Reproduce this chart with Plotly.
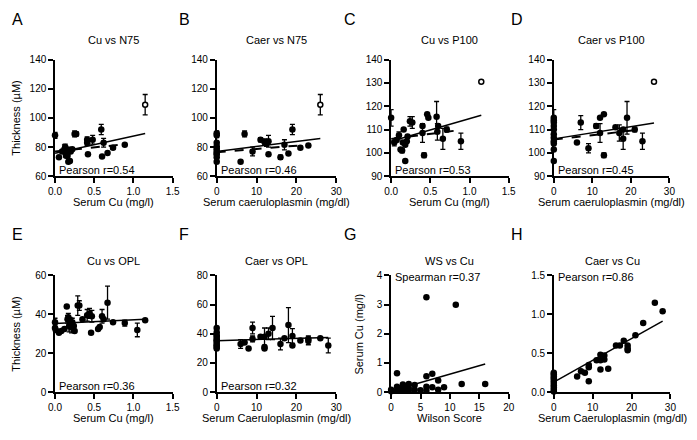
import plotly.graph_objects as go
from plotly.subplots import make_subplots

# ---- values ----
# A: serum Cu vs N75 thickness
cu_a = [0.0, 0.05, 0.09, 0.12, 0.13, 0.14, 0.15, 0.16, 0.17, 0.17, 0.19, 0.20, 0.22,
        0.25, 0.27, 0.41, 0.41, 0.42, 0.48, 0.59, 0.60, 0.62, 0.67, 0.74, 0.89]
n75_a = [88, 73, 77, 78.5, 80, 74, 76, 74, 78, 70, 70.5, 77, 78.5,
         89, 89, 85, 83, 75, 85, 92, 73.5, 83, 76, 79.5, 81.5]
err_a = [2, 0, 0, 3, 2, 0, 2, 0, 2, 0, 0, 0, 0,
         2, 1.5, 2, 2, 0, 3, 3.5, 0, 3, 0, 1, 0]

# B: serum caeruloplasmin vs N75 thickness
caer_b = [0, 0, 0, 0, 0, 0, 0, 0, 0, 0, 6, 7, 9, 11, 12, 12.5, 13, 13, 16, 17, 18, 19, 21, 23]
n75_b = [89.5, 88, 83, 80.5, 79, 77.5, 76, 75, 73, 70, 70, 89, 77, 85, 83.5, 82.5, 84, 75,
         73, 81.5, 75.5, 92, 79.5, 81]
err_b = [1.5, 1.5, 0, 0, 0, 0, 0, 0, 0, 0, 0, 2, 3, 1.5, 2, 2, 4, 0, 1.5, 3.5, 0, 3.5, 1, 0]

# C: serum Cu vs P100 thickness
cu_c = [0.0, 0.04, 0.07, 0.10, 0.12, 0.14, 0.15, 0.16, 0.18, 0.18, 0.20, 0.21, 0.24,
        0.27, 0.40, 0.40, 0.42, 0.46, 0.475, 0.58, 0.59, 0.60, 0.66, 0.71, 0.89]
p100_c = [115, 104.5, 105.5, 107.5, 101.5, 101, 104.5, 110, 96.5, 103.5, 105, 107, 113.5,
          113, 111.5, 108.5, 99, 116.5, 115, 115.5, 109, 111.5, 106, 110, 105]
err_c = [3.5, 1.5, 0, 1.5, 0, 1, 0, 0, 0, 0, 0, 0, 2,
         2.5, 0, 4, 1, 0, 0, 6.5, 3.5, 0, 4.5, 1, 3.5]

# D: serum caeruloplasmin vs P100 thickness
caer_d = [0, 0, 0, 0, 0, 0, 0, 0, 0, 0, 0, 6, 7, 9, 11, 12, 12, 13, 13, 16, 17, 18, 18,
          19, 21, 23]
p100_d = [115, 114, 113, 111.5, 110, 108, 106.5, 105, 104, 101.5, 96.5, 104.5, 113, 102,
          111.5, 115, 108.5, 116.5, 99, 111, 108.5, 106, 110, 115, 110, 105]
err_d = [3.5, 0, 0, 0, 0, 0, 0, 0, 0, 0, 0, 0, 3, 2, 1, 0, 4, 0, 1, 0, 3.5, 4.5, 0, 7, 1, 3.5]

# open-circle outlier in A-D (Cu, caeruloplasmin, N75, P100)
out_cu = 1.15
out_caer = 26
out_n75, out_n75_err = 109, 7
out_p100 = 130.5

# E: serum Cu vs OPL thickness
cu_e = [0.0, 0.0, 0.01, 0.05, 0.08, 0.12, 0.15, 0.16, 0.17, 0.18, 0.19, 0.20, 0.21, 0.22,
        0.24, 0.25, 0.29, 0.31, 0.35, 0.41, 0.44, 0.46, 0.47, 0.55, 0.57, 0.60, 0.62,
        0.67, 0.74, 0.89, 1.05, 1.15]
opl_e = [36, 33, 32, 30.5, 31.5, 32.5, 44, 37.5, 38.5, 34, 36.5, 35, 33.5, 36,
         34, 31.5, 44.5, 44.5, 37.5, 39.5, 40.5, 30.5, 39, 32.5, 33.5, 39, 37.5,
         46, 36, 35.5, 32, 37]
err_e = [2, 2, 0, 0, 0, 0, 0, 2, 2, 3, 2, 3, 3, 2, 0, 0, 5, 2.5, 0, 3, 2.5, 0, 3, 0, 0,
         3.5, 0, 8.5, 0, 1.5, 3.5, 0]

# F: serum caeruloplasmin vs OPL thickness
caer_f = [0, 0, 0, 0, 0, 0, 0, 0, 0, 0, 0, 6, 7, 8, 9, 9, 11, 12, 12, 12, 13, 14, 16, 17,
          18, 19, 19, 21, 23, 23, 26, 28]
opl_f = [44, 41, 39, 38, 36.5, 35.5, 34.5, 33, 32, 31, 30, 33, 34, 30, 44, 36.5, 38, 31,
         30, 38, 40, 44, 33, 37, 46, 38.5, 32, 35.5, 36.5, 35, 37, 32]
err_f = [0, 0, 0, 0, 0, 0, 0, 0, 0, 0, 0, 3, 0, 0, 4, 2, 0, 0, 0, 6, 4, 8, 4, 0, 12, 5,
         0, 0, 2, 2.5, 0, 5]

# G: Wilson score vs serum Cu
ws_g = [0, 0, 1, 1, 1, 2, 2, 2, 3, 3, 3, 4, 4, 5, 6, 6, 6, 6, 7, 7, 8, 8, 9, 11, 12, 16]
cu_g = [0.08, 0.03, 0.65, 0.19, 0.06, 0.26, 0.14, 0.05, 0.28, 0.14, 0.05, 0.25, 0.08,
        0.07, 3.25, 0.55, 0.19, 0.05, 0.63, 0.17, 0.4, 0.08, 0.17, 3.0, 0.28, 0.28]

# H: serum caeruloplasmin vs serum Cu
caer_h = [0, 0, 0, 0, 0, 0, 0, 0, 0, 0, 6, 7, 8, 9, 9, 9, 11, 12, 12, 12, 13, 13, 14, 16,
          17, 18, 19, 19, 19, 21, 23, 26, 28]
cu_h = [0.25, 0.23, 0.2, 0.18, 0.15, 0.12, 0.09, 0.06, 0.03, 0.01, 0.2, 0.27, 0.25, 0.32,
        0.35, 0.14, 0.41, 0.41, 0.48, 0.29, 0.47, 0.42, 0.3, 0.6, 0.6, 0.66, 0.6, 0.56,
        0.54, 0.73, 0.89, 1.15, 1.04]

# regression lines: (intercept, slope, x from, x to)
fit_a = (75.8, 11.7, 0, 1.15)
fit_a_excl = (77.0, 5.5, 0, 0.89)
fit_b = (77.0, 0.34, 0, 26)
fit_b_excl = (76.5, 0.22, 0, 23)
fit_c = (105.0, 9.7, 0, 1.15)
fit_c_excl = (106.0, 4.3, 0, 0.89)
fit_d = (106.0, 0.26, 0, 26)
fit_d_excl = (105.7, 0.19, 0, 23)
fit_e = (35.3, 1.9, 0, 1.15)
fit_f = (35.3, 0.08, 0, 28)
fit_g = (0.04, 0.058, 0, 16)
fit_h = (0.13, 0.028, 0, 28)

letters = ["A", "B", "C", "D", "E", "F", "G", "H"]
titles = ["Cu vs N75", "Caer vs N75", "Cu vs P100", "Caer vs P100",
          "Cu vs OPL", "Caer vs OPL", "WS vs Cu", "Caer vs Cu"]
stats = ["Pearson r=0.54", "Pearson r=0.46", "Pearson r=0.53", "Pearson r=0.45",
         "Pearson r=0.36", "Pearson r=0.32", "Spearman r=0.37", "Pearson r=0.86"]
x_titles = ["Serum Cu (mg/l)", "Serum caeruloplasmin (mg/dl)", "Serum Cu (mg/l)",
            "Serum caeruloplasmin (mg/dl)", "Serum Cu (mg/l)", "Serum Caeruloplasmin (mg/dl)",
            "Wilson Score", "Serum Caeruloplasmin (mg/dl)"]
y_titles = ["Thickness (µM)", "", "", "", "Thickness (µM)", "", "Serum Cu (mg/l)", ""]

panels = [
    dict(x=cu_a, y=n75_a, err=err_a, out=(out_cu, out_n75, out_n75_err), fits=[fit_a, fit_a_excl],
         xr=[0, 1.5], xd=0.5, xf=".1f", yr=[60, 140], yd=20, yf="d"),
    dict(x=caer_b, y=n75_b, err=err_b, out=(out_caer, out_n75, out_n75_err), fits=[fit_b, fit_b_excl],
         xr=[0, 30], xd=10, xf="d", yr=[60, 140], yd=20, yf="d"),
    dict(x=cu_c, y=p100_c, err=err_c, out=(out_cu, out_p100, 0), fits=[fit_c, fit_c_excl],
         xr=[0, 1.5], xd=0.5, xf=".1f", yr=[90, 140], yd=10, yf="d"),
    dict(x=caer_d, y=p100_d, err=err_d, out=(out_caer, out_p100, 0), fits=[fit_d, fit_d_excl],
         xr=[0, 30], xd=10, xf="d", yr=[90, 140], yd=10, yf="d"),
    dict(x=cu_e, y=opl_e, err=err_e, out=None, fits=[fit_e],
         xr=[0, 1.5], xd=0.5, xf=".1f", yr=[0, 60], yd=20, yf="d"),
    dict(x=caer_f, y=opl_f, err=err_f, out=None, fits=[fit_f],
         xr=[0, 30], xd=10, xf="d", yr=[0, 80], yd=20, yf="d"),
    dict(x=ws_g, y=cu_g, err=None, out=None, fits=[fit_g],
         xr=[0, 20], xd=5, xf="d", yr=[0, 4], yd=1, yf="d"),
    dict(x=caer_h, y=cu_h, err=None, out=None, fits=[fit_h],
         xr=[0, 30], xd=10, xf="d", yr=[0, 1.5], yd=0.5, yf=".1f"),
]

# ---- layout in pixels ----
W, H = 697, 440
FONT = "Arial, Liberation Sans, sans-serif"
# plot boxes: left, right, top, bottom
boxes = [(49, 169, 55, 175), (214, 336, 55, 175), (392, 512, 55, 175), (558, 676, 55, 175),
         (49, 169, 277, 397), (214, 336, 277, 397), (392, 512, 277, 397), (558, 677, 277, 397)]
letter_pos = [(3, 14), (173, 14), (342, 14), (512, 14),
              (3, 235), (173, 235), (342, 235), (512, 235)]
title_y = [35, 35, 35, 35, 262, 262, 262, 262]
xtitle_y = [201, 201, 201, 201, 424, 424, 424, 424]
ytitle_x = [9, 0, 0, 0, 9, 0, 359, 0]


def text_font(size=11):
    return dict(family=FONT, size=size, color="black")


fig = make_subplots(rows=2, cols=4)

for i, p in enumerate(panels):
    r, c = i // 4 + 1, i % 4 + 1
    err = None
    if p["err"] is not None:
        err = dict(type="data", array=p["err"], color="black", thickness=1.3, width=2.5)
    fig.add_trace(go.Scatter(
        x=p["x"], y=p["y"], mode="markers", error_y=err, cliponaxis=False,
        marker=dict(color="black", size=6.5), showlegend=False), row=r, col=c)
    if p["out"] is not None:
        ox, oy, oe = p["out"]
        fig.add_trace(go.Scatter(
            x=[ox], y=[oy], mode="markers", cliponaxis=False,
            error_y=dict(type="data", array=[oe], color="black", thickness=1.3, width=2.5),
            marker=dict(color="white", size=5, line=dict(color="black", width=1.5)),
            showlegend=False), row=r, col=c)
    for k, (b, m, x0, x1) in enumerate(p["fits"]):
        fig.add_trace(go.Scatter(
            x=[x0, x1], y=[b + m * x0, b + m * x1], mode="lines",
            line=dict(color="black", width=1.5 if k == 0 else 2, dash="solid" if k == 0 else "dash"),
            showlegend=False), row=r, col=c)

    L, R, T, B = boxes[i]
    axis = dict(showline=True, linecolor="black", linewidth=1.5, ticks="outside",
                ticklen=5, tickwidth=1.5, tickcolor="black", showgrid=False,
                zeroline=False, tickfont=text_font(10))
    fig.update_xaxes(axis, domain=[L / W, R / W], range=p["xr"], dtick=p["xd"],
                     tick0=0, tickformat=p["xf"], row=r, col=c)
    fig.update_yaxes(axis, domain=[1 - B / H, 1 - T / H], range=p["yr"], dtick=p["yd"],
                     tick0=0, tickformat=p["yf"], row=r, col=c)

    xref = "x" if i == 0 else f"x{i + 1}"
    yref = "y" if i == 0 else f"y{i + 1}"
    # panel title, letter, statistic, axis titles
    fig.add_annotation(text=titles[i], xref="paper", yref="paper",
                       x=(L + R) / 2 / W, y=1 - title_y[i] / H, showarrow=False,
                       xanchor="center", yanchor="middle", font=text_font())
    lx, ly = letter_pos[i]
    fig.add_annotation(text=letters[i], xref="paper", yref="paper",
                       x=lx / W, y=1 - ly / H, showarrow=False,
                       xanchor="left", yanchor="middle", font=text_font(16))
    top_stat = i >= 6
    fig.add_annotation(text=stats[i], xref=f"{xref} domain", yref=f"{yref} domain",
                       x=0.02, y=0.985 if top_stat else 0.05, showarrow=False,
                       xanchor="left", yanchor="middle", font=text_font())
    fig.add_annotation(text=x_titles[i], xref="paper", yref="paper",
                       x=(L + R) / 2 / W, y=1 - xtitle_y[i] / H, showarrow=False,
                       xanchor="center", yanchor="middle", font=text_font())
    if y_titles[i]:
        fig.add_annotation(text=y_titles[i], xref="paper", yref="paper", textangle=-90,
                           x=ytitle_x[i] / W, y=1 - (T + B) / 2 / H, showarrow=False,
                           xanchor="center", yanchor="middle", font=text_font())

fig.update_layout(width=W, height=H, margin=dict(l=0, r=0, t=0, b=0),
                  plot_bgcolor="white", paper_bgcolor="white",
                  font=text_font())

# drop the browser's default body margin so the figure sits at the page origin
fig.write_html("out.html", config={"displayModeBar": False},
               post_script="document.body.style.margin = '0';")
